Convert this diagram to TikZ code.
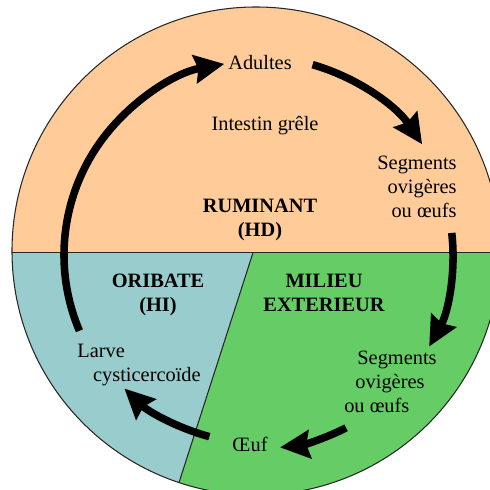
\documentclass[tikz,border=0pt]{standalone}
\usepackage{fontspec}
\setmainfont{Liberation Serif}
\usetikzlibrary{arrows.meta,positioning}
\usepackage{xcolor}
\definecolor{peche}{HTML}{FFCC99}
\definecolor{oribleu}{HTML}{99CCCC}
\definecolor{milvert}{HTML}{66CC66}

\begin{document}
\begin{tikzpicture}[x=0.02cm,y=0.02cm,
	lbl/.style={font=\fontsize{11.6pt}{13.6pt}\selectfont,inner sep=0pt},
	zone/.style={lbl,font=\fontsize{11.6pt}{13.6pt}\selectfont\bfseries,align=center},
	cyc/.style={line width=4.3pt,-{Stealth[length=17pt,width=16pt,inset=2pt]}}]
	\useasboundingbox (0,0) rectangle (490,490);
	\clip (0,0) rectangle (490,490);
	\coordinate (o) at (256,239);
	\coordinate (c) at (258,235);
	% les trois zones
	\begin{scope}
		\clip (o) circle (244);
		\fill[peche] (0,237.3) rectangle (510,500);
		\fill[oribleu] (0,237.3) -- (253,237.3) -- (175,-5) -- (0,-5) -- cycle;
		\fill[milvert] (253,237.3) -- (510,237.3) -- (510,-5) -- (175,-5) -- cycle;
		\draw[black!85,line width=0.6pt] (0,237.3) -- (510,237.3);
		\draw[black!85,line width=0.6pt] (253,237.3) -- (175,-5);
	\end{scope}
	\draw[black!85,line width=0.6pt] (o) circle (244);
	% textes
	\node[lbl] (adultes) at (260,427) {Adultes};
	\node[lbl] (intestin) at (265,364) {Intestin grêle};
	\node[lbl,align=right,anchor=east] (seg1) at (457,303) {Segments\\ovigères\\ou œufs};
	\node[zone] (ruminant) at (260,270) {RUMINANT\\(HD)};
	\node[zone] (oribate) at (158,195) {ORIBATE\\(HI)};
	\node[zone] (milieu) at (324,197) {MILIEU\\EXTERIEUR};
	\node[lbl,align=center] (seg2) at (390,108) {\hspace*{8pt}Segments\\ovigères\\ou œufs\hspace*{15pt}};
	\node[lbl,align=left,anchor=west] (larve) at (77,125) {Larve\\\hspace*{9pt}cysticercoïde};
	\node[lbl] (oeuf) at (250,46) {Œuf};
	% le cycle
	\draw[cyc] ([shift={(203:194)}]c) arc[start angle=203,end angle=100,radius=194];
	\draw[cyc] ([shift={(74:198)}]c) arc[start angle=74,end angle=34,radius=198];
	\draw[cyc] ([shift={(6.5:195)}]c) arc[start angle=6.5,end angle=-29,radius=190];
	\draw[cyc] ([shift={(-63:194)}]c) arc[start angle=-63,end angle=-84,radius=189];
	\draw[cyc] ([shift={(255:188)}]c) arc[start angle=255,end angle=226,radius=195];
\end{tikzpicture}
\end{document}
